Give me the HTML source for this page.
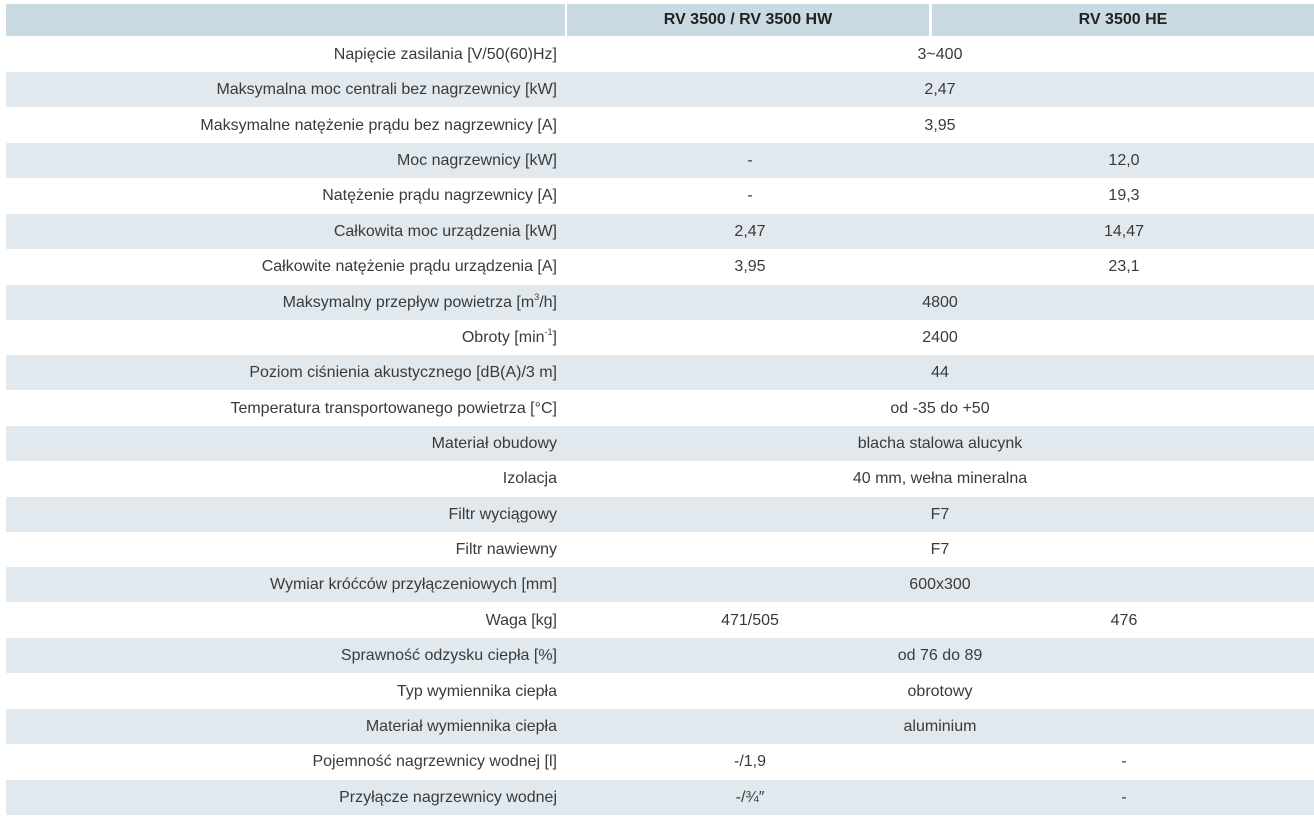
<!DOCTYPE html>
<html><head><meta charset="utf-8"><style>
body{margin:0;width:1314px;height:820px;background:#fff;font-family:"Liberation Sans",sans-serif;color:#3a3a3a;position:relative;overflow:hidden}
.h{position:absolute;top:4px;height:32px;background:#c9dae3;font-weight:bold;font-size:16px;color:#222;line-height:32px;text-align:center}
.r{position:absolute;left:6px;width:1308px;height:35px}
.s{background:#e1e9ef}
.t{position:absolute;font-size:16px;line-height:35px;white-space:nowrap}
.t sup{font-size:9px;line-height:0;vertical-align:7px}
.l{right:757px;text-align:right}
.c2{left:600px;width:300px;text-align:center}
.c3{left:974px;width:300px;text-align:center}
.sp{left:790px;width:300px;text-align:center}
</style></head><body>
<div class="h" style="left:6px;width:559px"></div>
<div class="h" style="left:567px;width:362px">RV 3500 / RV 3500 HW</div>
<div class="h" style="left:932px;width:382px">RV 3500 HE</div>
<div id="rows"></div>
<script>
var d=[
["Napięcie zasilania [V/50(60)Hz]","3~400"],
["Maksymalna moc centrali bez nagrzewnicy [kW]","2,47"],
["Maksymalne natężenie prądu bez nagrzewnicy [A]","3,95"],
["Moc nagrzewnicy [kW]","-","12,0"],
["Natężenie prądu nagrzewnicy [A]","-","19,3"],
["Całkowita moc urządzenia [kW]","2,47","14,47"],
["Całkowite natężenie prądu urządzenia [A]","3,95","23,1"],
["Maksymalny przepływ powietrza [m<sup>3</sup>/h]","4800"],
["Obroty [min<sup>-1</sup>]","2400"],
["Poziom ciśnienia akustycznego [dB(A)/3 m]","44"],
["Temperatura transportowanego powietrza [°C]","od -35 do +50"],
["Materiał obudowy","blacha stalowa alucynk"],
["Izolacja","40 mm, wełna mineralna"],
["Filtr wyciągowy","F7"],
["Filtr nawiewny","F7"],
["Wymiar króćców przyłączeniowych [mm]","600x300"],
["Waga [kg]","471/505","476"],
["Sprawność odzysku ciepła [%]","od 76 do 89"],
["Typ wymiennika ciepła","obrotowy"],
["Materiał wymiennika ciepła","aluminium"],
["Pojemność nagrzewnicy wodnej [l]","-/1,9","-"],
["Przyłącze nagrzewnicy wodnej","-/¾″","-"]];
var h="";
d.forEach(function(r,i){
var top=(37+i*35.36).toFixed(1);
h+='<div class="r'+(i%2?' s':'')+'" style="top:'+top+'px"></div>';
h+='<div class="t l" style="top:'+top+'px">'+r[0]+'</div>';
if(r.length==2)h+='<div class="t sp" style="top:'+top+'px">'+r[1]+'</div>';
else h+='<div class="t c2" style="top:'+top+'px">'+r[1]+'</div><div class="t c3" style="top:'+top+'px">'+r[2]+'</div>';
});
document.getElementById("rows").innerHTML=h;
</script>
</body></html>
